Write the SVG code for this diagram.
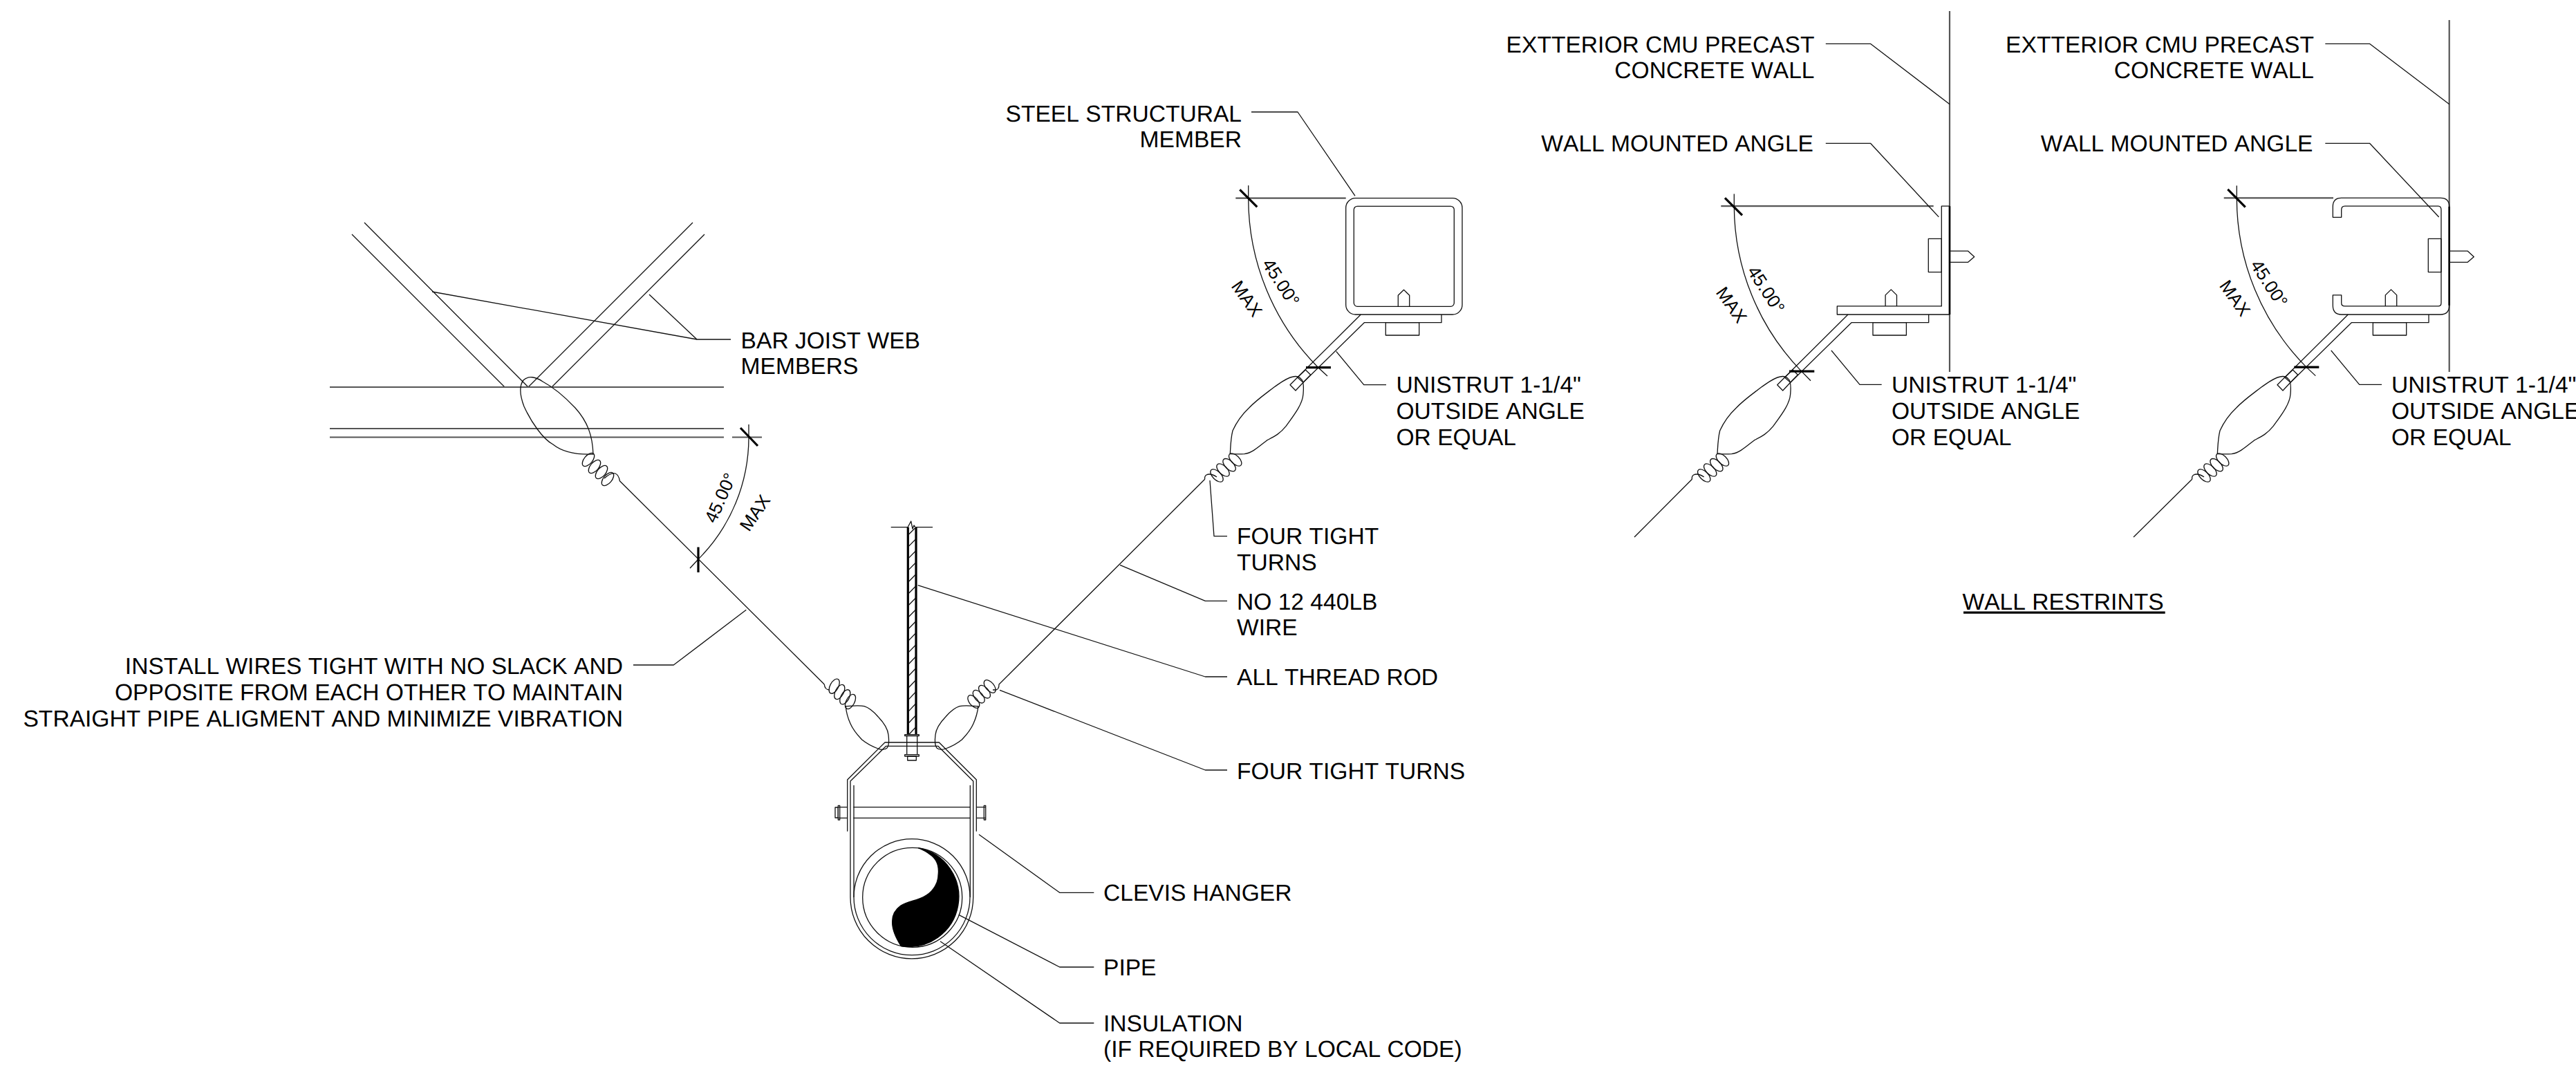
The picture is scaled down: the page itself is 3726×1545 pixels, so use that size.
<svg xmlns="http://www.w3.org/2000/svg" width="3726" height="1545" viewBox="0 0 3726 1545">
<style>
text{font-family:"Liberation Sans",Arial,sans-serif;font-size:33.6px;fill:#000;font-kerning:none;text-rendering:geometricPrecision}
.e{text-anchor:end}
.d{font-size:26px;text-anchor:middle}
path,line,rect,circle,ellipse,polyline{fill:none;stroke:#111;stroke-width:1.3;stroke-linejoin:round}
.g{stroke:#555;stroke-width:2.2}
.k{stroke:#000;stroke-width:3.2}
.w{stroke:#000;stroke-width:2.6}
.f{fill:#000;stroke:#000}
</style>
<defs>
<g id="coil">
<ellipse cx="0" cy="0" rx="11.5" ry="6" transform="rotate(45)"/>
<ellipse cx="-8.6" cy="7.7" rx="11.5" ry="6" transform="rotate(45 -8.6 7.7)"/>
<ellipse cx="-17.7" cy="15" rx="11.5" ry="6" transform="rotate(45 -17.7 15)"/>
<ellipse cx="-26.7" cy="23" rx="11.5" ry="6" transform="rotate(45 -26.7 23)"/>
</g>
<g id="assembly">
<path d="M1779.3 656.7C1787 657 1795 657 1800 656.7C1812 655 1822 645 1833 636.7C1842 632 1851 628 1860 616.7C1872 600 1884 585 1885 570C1886 558 1885 550 1881.7 548C1878 544 1874 544 1870 545C1860 547 1852 554 1843 560C1830 570 1817 579 1806.7 590C1795 601 1788 612 1783 623C1780 635 1780 646 1779.3 656.7Z"/>
<use href="#coil" x="1786.7" y="665"/>
<path d="M1760 690Q1751 684 1745 687Q1742 689 1742.7 693.3"/>
<path d="M1866 556.7L1874 565L1885 553.3L1876.7 546ZM1876.7 546L1888.3 535L1895.7 542.3L1885 553.3"/>
<path d="M1876.7 546L1968.3 455M1885 553.3L1973.3 466.7H2085V455"/>
<rect x="2004.3" y="466.7" width="48.4" height="18.3"/>
</g>
<path id="bolt-up" d="M-8.2 0V-16L0 -24L8.2 -16V0"/>
</defs>

<g id="bar-joist">
<path d="M509 339L730 560M527 322L764 560L1002 322M1019 339L798 560"/>
<path class="g" d="M477 560H1047M477 620H1047M477 632.5H1047M1059 632.5H1102"/>
<path d="M858 657C857 630 850 610 832 590C815 572 800 560 785 552C775 545 764 543 757 550C751 558 752 572 758 588C768 610 785 635 800 643C815 655 835 658 858 657Z"/>
<ellipse cx="851" cy="665" rx="11.5" ry="6" transform="rotate(-50 851 665)"/>
<ellipse cx="860" cy="675" rx="11.5" ry="6" transform="rotate(-50 860 675)"/>
<ellipse cx="870" cy="683" rx="11.5" ry="6" transform="rotate(-50 870 683)"/>
<ellipse cx="879" cy="693" rx="11.5" ry="6" transform="rotate(-50 879 693)"/>
<path d="M874 692Q884 683 890 685Q895 687 896.4 695.7L1192.3 990"/>
</g>

<g id="dim-left">
<path d="M1083 632A249.5 249.5 0 0 1 1010 809"/>
<path d="M1083 614V632M998 822L1010 809"/>
<path class="k" d="M1071 619L1096 645M1010 791.5V828"/>
<text class="d" transform="translate(1041.5 720) rotate(-66) translate(0 9.5)">45.00°</text>
<text class="d" transform="translate(1091.5 741.7) rotate(-56) translate(0 9.5)">MAX</text>
</g>

<g id="rod">
<path d="M1288.7 762.7H1313.3M1325 762.7H1349"/>
<path d="M1313 762.7L1317.7 754L1320 765L1322 760L1324 762.7"/>
<path class="k" d="M1313.3 762.7V1062.7M1325 762.7V1062.7"/>
<path d="M1314.5 1062.7L1324.5 1052M1314.5 1045.7L1324.5 1035M1314.5 1028.6L1324.5 1018M1314.5 1011.6L1324.5 1001M1314.5 994.5L1324.5 984M1314.5 977.5L1324.5 967M1314.5 960.5L1324.5 950M1314.5 943.4L1324.5 933M1314.5 926.4L1324.5 916M1314.5 909.3L1324.5 899M1314.5 892.3L1324.5 882M1314.5 875.3L1324.5 865M1314.5 858.2L1324.5 848M1314.5 841.2L1324.5 831M1314.5 824.1L1324.5 814M1314.5 807.1L1324.5 797M1314.5 790.1L1324.5 780M1314.5 773L1324.5 763"/>
<rect x="1308.7" y="1062.7" width="20.6" height="1.8"/>
<path d="M1311.7 1064.5V1091.7M1326.7 1064.5V1091.7"/>
<rect x="1308.7" y="1091.7" width="20.6" height="2.3"/>
<rect x="1312.7" y="1094" width="12.6" height="6"/>
</g>

<g id="hanger-wires">
<path d="M1223.3 1021.7C1235 1021 1243 1020 1250 1021.7C1258 1024 1264 1030 1270 1036.7C1278 1045 1284 1053 1285 1063C1286 1071 1286 1078 1283.3 1081.7C1280 1085 1275 1085 1270 1083C1262 1080 1254 1076 1246.7 1070C1240 1063 1234 1056 1230 1046.7C1226 1038 1224 1030 1223.3 1021.7Z"/>
<ellipse cx="1206.7" cy="992.7" rx="11.5" ry="6" transform="rotate(-62 1206.7 992.7)"/>
<ellipse cx="1214.3" cy="1001" rx="11.5" ry="6" transform="rotate(-62 1214.3 1001)"/>
<ellipse cx="1222.3" cy="1008.3" rx="11.5" ry="6" transform="rotate(-62 1222.3 1008.3)"/>
<ellipse cx="1230" cy="1015" rx="11.5" ry="6" transform="rotate(-62 1230 1015)"/>
<path d="M1192.3 990Q1193 998 1200 998"/>
<path d="M1415 1021.7C1403 1021 1395 1020 1388 1021.7C1380 1024 1374 1030 1368 1036.7C1360 1045 1354 1053 1353 1063C1352 1071 1352 1078 1354.7 1081.7C1358 1085 1363 1085 1368 1083C1376 1080 1384 1076 1391.3 1070C1398 1063 1404 1056 1408 1046.7C1412 1038 1414 1030 1415 1021.7Z"/>
<ellipse cx="1431.7" cy="993" rx="11" ry="6" transform="rotate(50 1431.7 993)"/>
<ellipse cx="1424" cy="1000.7" rx="11" ry="6" transform="rotate(50 1424 1000.7)"/>
<ellipse cx="1415.7" cy="1007.7" rx="11" ry="6" transform="rotate(50 1415.7 1007.7)"/>
<ellipse cx="1408.3" cy="1015" rx="11" ry="6" transform="rotate(50 1408.3 1015)"/>
<path d="M1436 998H1440Q1445 998 1445 990L1742.7 693.3"/>
</g>

<g id="clevis-hanger">
<path d="M1225.7 1202.7V1128L1280 1074H1358.3L1412.3 1128V1202.7"/>
<path d="M1230 1130L1281.7 1079.3H1356.7L1407.7 1130V1298A88.8 88.8 0 0 1 1230 1298Z"/>
<path d="M1235 1136V1298M1403.3 1136V1298"/>
<path d="M1234.3 1167.7H1403.3M1234.3 1183.3H1403.3M1212.7 1167.7H1225.7M1212.7 1183.3H1225.7M1412.3 1167.7H1425M1412.3 1183.3H1425"/>
<rect x="1212.3" y="1165.3" width="2.4" height="20.7"/>
<rect x="1208" y="1168" width="4.3" height="15"/>
<rect x="1423.3" y="1165.3" width="2.4" height="20.7"/>
</g>

<g id="pipe">
<circle cx="1319" cy="1297.7" r="84"/>
<circle cx="1319.7" cy="1298.3" r="72"/>
<path class="f" d="M1328.3 1226.7A72 72 0 0 1 1303.3 1368.5C1296 1357 1290 1345 1290.7 1333C1290.5 1322 1296 1315 1303 1310C1315 1303 1328 1303 1340 1295C1351 1288 1357 1276 1357 1266.7C1359 1252 1354 1242 1345 1236C1340 1232 1334 1229 1328.3 1226.7Z"/>
</g>

<g id="hss-support">
<rect x="1946.7" y="286.7" width="168.3" height="168.3" rx="14"/>
<rect x="1958.3" y="298.3" width="145" height="145" rx="5"/>
<use href="#bolt-up" x="2030.5" y="443.3"/>
<use href="#assembly"/>
<path class="g" d="M1787.3 286.7H1946.7"/>
<path d="M1805.7 268.3V286.7M1906.7 531.7L1920 544"/>
<path d="M1805.7 286.7A347.7 347.7 0 0 0 1906.7 531.7"/>
<path class="k" d="M1793.3 274.3L1818.3 299.3M1889 531.7H1925"/>
<text class="d" transform="translate(1853.3 408.3) rotate(57) translate(0 9.5)">45.00°</text>
<text class="d" transform="translate(1804 431.7) rotate(55) translate(0 9.5)">MAX</text>
</g>

<g id="wall-angle-support">
<path class="g" d="M2820 16V538"/>
<path class="w" d="M2820 298.2V455"/>
<path d="M2820 298.2H2808.3V442.9H2657.3V455H2820"/>
<rect x="2789.3" y="345.4" width="19" height="48.2"/>
<path d="M2820 363.2H2846.7L2855.7 371.4L2846.7 379.3H2820"/>
<use href="#bolt-up" x="2735.3" y="442.9"/>
<use href="#assembly" x="704.7" y="0"/>
<path d="M2447.4 693.3L2364 777"/>
<path class="g" d="M2489.3 298.2H2796.7"/>
<path d="M2508.3 280.4V298.2M2605.7 537.1L2619 550.7"/>
<path d="M2508.3 298.2A345 345 0 0 0 2605.7 537.1"/>
<path class="k" d="M2495 286.4L2520 311.4M2588 537.1H2624.3"/>
<text class="d" transform="translate(2555 418.6) rotate(57) translate(0 9.5)">45.00°</text>
<text class="d" transform="translate(2505 440.7) rotate(55) translate(0 9.5)">MAX</text>
</g>

<g id="wall-channel-support">
<path class="g" d="M3542.7 29V538"/>
<path class="w" d="M3542.7 298.9V441.8"/>
<path d="M3374.3 314.3V298.9Q3374.3 286.4 3386.7 286.4H3530Q3542.7 286.4 3542.7 298.9V441.8Q3542.7 455 3530 455H3386.7Q3374.3 455 3374.3 441.8V426.8H3386.7V438.2Q3386.7 442.9 3391.7 442.9H3526.7Q3531 442.9 3531 438.2V303.6Q3531 298.2 3526.7 298.2H3391.7Q3386.7 298.2 3386.7 303.6V314.3Z"/>
<rect x="3512.3" y="345.4" width="18.7" height="48.2"/>
<path d="M3542.7 363.2H3569.3L3578.3 371.4L3569.3 379.3H3542.7"/>
<use href="#bolt-up" x="3458.5" y="442.9"/>
<use href="#assembly" x="1428" y="0"/>
<path d="M3170.7 693.3L3086 777"/>
<path class="g" d="M3216.7 286.4H3375"/>
<path d="M3235.3 268.6V286.4M3336 531.1L3349.3 543.6"/>
<path d="M3235.3 286.4A347.7 347.7 0 0 0 3336 531.1"/>
<path class="k" d="M3222.3 273.9L3247.7 299.6M3318.3 531.1H3354.3"/>
<text class="d" transform="translate(3282.7 409.6) rotate(57) translate(0 9.5)">45.00°</text>
<text class="d" transform="translate(3233.3 431) rotate(55) translate(0 9.5)">MAX</text>
</g>

<g id="connectors">
<polyline points="625,422 1008,491 1057,491"/>
<polyline points="939,426 1008,491"/>
<polyline points="916,962 974.3,962 1079.3,882.3"/>
<polyline points="1327.7,846.7 1743.3,979 1775,979"/>
<polyline points="1446,998.3 1743.3,1114 1775,1114"/>
<polyline points="1416,1207.3 1532.7,1291.3 1582.3,1291.3"/>
<polyline points="1386.7,1323.3 1532.7,1399 1582.3,1399"/>
<polyline points="1360,1361.7 1532.7,1480 1582.3,1480"/>
<polyline points="1750,695 1756,775.7 1775,775.7"/>
<polyline points="1620,817.3 1743.3,869.3 1775,869.3"/>
<polyline points="1810,162 1877,162 1960,283.3"/>
<polyline points="1932.7,508.3 1972.7,556.7 2005,556.7"/>
<polyline points="2640.8,63.3 2705.5,63.3 2820,150.7"/>
<polyline points="2640.8,207.3 2705.5,207.3 2804.3,313.9"/>
<polyline points="2649,507 2690,556.4 2721.7,556.4"/>
<polyline points="3363.3,63.3 3427.5,63.3 3542.7,150.7"/>
<polyline points="3363.3,207.3 3427.5,207.3 3527.7,314"/>
<polyline points="3371.7,507 3412.7,556.4 3445,556.4"/>
</g>

<g id="labels">
<text class="e" x="1796" y="175.5">STEEL STRUCTURAL</text>
<text class="e" x="1796" y="213.3">MEMBER</text>
<text x="1071.6" y="503.5">BAR JOIST WEB</text>
<text x="1071.6" y="541.3">MEMBERS</text>
<text x="2019.5" y="568.3">UNISTRUT 1-1/4"</text>
<text x="2019.5" y="606">OUTSIDE ANGLE</text>
<text x="2019.5" y="643.8">OR EQUAL</text>
<text x="1789" y="787.3">FOUR TIGHT</text>
<text x="1789" y="825">TURNS</text>
<text x="1789" y="881.7">NO 12 440LB</text>
<text x="1789" y="918.5">WIRE</text>
<text x="1789" y="990.7">ALL THREAD ROD</text>
<text x="1789" y="1126.7">FOUR TIGHT TURNS</text>
<text x="1596" y="1303.3">CLEVIS HANGER</text>
<text x="1596" y="1411">PIPE</text>
<text x="1596" y="1491.7">INSULATION</text>
<text x="1596" y="1529.3">(IF REQUIRED BY LOCAL CODE)</text>
<text class="e" x="901" y="975">INSTALL WIRES TIGHT WITH NO SLACK AND</text>
<text class="e" x="901" y="1012.8">OPPOSITE FROM EACH OTHER TO MAINTAIN</text>
<text class="e" x="901" y="1050.6">STRAIGHT PIPE ALIGMENT AND MINIMIZE VIBRATION</text>
<text class="e" x="2624.5" y="76">EXTTERIOR CMU PRECAST</text>
<text class="e" x="2624.5" y="113">CONCRETE WALL</text>
<text class="e" x="2623" y="219.3">WALL MOUNTED ANGLE</text>
<text x="2736" y="568.3">UNISTRUT 1-1/4"</text>
<text x="2736" y="606">OUTSIDE ANGLE</text>
<text x="2736" y="643.8">OR EQUAL</text>
<text class="e" x="3347" y="76">EXTTERIOR CMU PRECAST</text>
<text class="e" x="3347" y="113">CONCRETE WALL</text>
<text class="e" x="3345.5" y="219.3">WALL MOUNTED ANGLE</text>
<text x="3459" y="568.3">UNISTRUT 1-1/4"</text>
<text x="3459" y="606">OUTSIDE ANGLE</text>
<text x="3459" y="643.8">OR EQUAL</text>
<text x="2838.5" y="881.7">WALL RESTRINTS</text>
<line class="k" x1="2840" y1="886.2" x2="3131.7" y2="886.2"/>
</g>
</svg>
